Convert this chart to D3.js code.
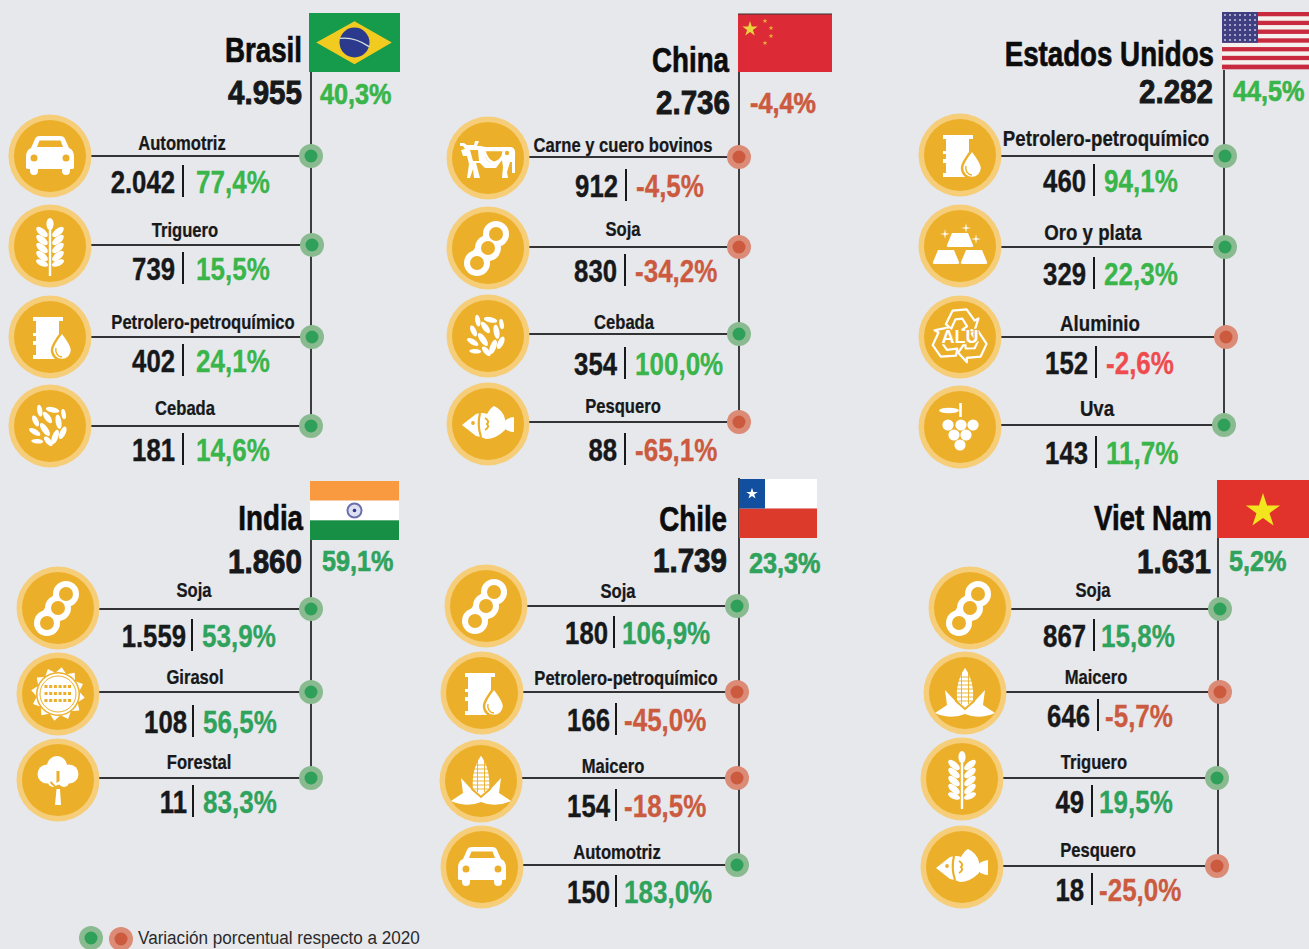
<!DOCTYPE html>
<html lang="es"><head>
<meta charset="utf-8">
<title>Exportaciones por destino</title>
<script src="https://cdnjs.cloudflare.com/ajax/libs/d3/7.8.5/d3.min.js"></script>
<style>
  html, body { margin: 0; background: #e6e8ec; }
  svg { display: block; }
  text { font-family: "Liberation Sans", sans-serif; font-weight: 700; fill: #17181a; }
</style>
</head>
<body>
<svg id="chart" width="1309" height="949"></svg>
<script>
// data
const countries = ["Brasil", "China", "Estados Unidos", "India", "Chile", "Viet Nam"];
const totals = [4955, 2736, 2282, 1860, 1739, 1631];
const totalChange = [40.3, -4.4, 44.5, 59.1, 23.3, 5.2];
const sectors = [
  ["Automotriz", "Triguero", "Petrolero-petroquímico", "Cebada"],
  ["Carne y cuero bovinos", "Soja", "Cebada", "Pesquero"],
  ["Petrolero-petroquímico", "Oro y plata", "Aluminio", "Uva"],
  ["Soja", "Girasol", "Forestal"],
  ["Soja", "Petrolero-petroquímico", "Maicero", "Automotriz"],
  ["Soja", "Maicero", "Triguero", "Pesquero"]
];
const sectorValues = [
  [2042, 739, 402, 181],
  [912, 830, 354, 88],
  [460, 329, 152, 143],
  [1559, 108, 11],
  [180, 166, 154, 150],
  [867, 646, 49, 18]
];
const sectorChange = [
  [77.4, 15.5, 24.1, 14.6],
  [-4.5, -34.2, 100.0, -65.1],
  [94.1, 22.3, -2.6, 11.7],
  [53.9, 56.5, 83.3],
  [106.9, -45.0, -18.5, 183.0],
  [15.8, -5.7, 19.5, -25.0]
];
const legendText = "Variación porcentual respecto a 2020";

// layout, one entry per panel
const stemX = [311, 739, 1224, 311, 739, 1218];
const stemTop = [72, 72, 70, 540, 478, 538];
const flagBox = [[309, 13, 91, 59], [738, 14, 94, 58], [1222, 12, 87, 57], [310, 481, 89, 59], [739, 479, 78, 59], [1217, 480, 92, 58]];
const titleY = [62, 72, 66, 530, 531, 530];
const titleRight = [302, 729, 1214, 303, 727, 1212];
const totalY = [104, 114, 103, 573, 572, 573];
const totalRight = [302, 730, 1213, 302, 727, 1211];
const headChangeX = [320, 750, 1233, 322, 749, 1229];
const headChangeY = [104, 113, 101, 571, 573, 571];
const lineY = [[156, 245, 337, 426], [157, 247, 334, 422], [156, 247, 337, 425], [609, 692, 778], [606, 692, 778, 865], [609, 692, 778, 866]];
const iconX = [[50, 50, 50, 50], [488, 488, 488, 488], [960, 960, 960, 960], [58, 58, 58], [486, 482, 481, 482], [970, 965, 962, 962]];
const iconY = [[156, 246, 337, 426], [158, 248, 336, 424], [155, 246, 337, 427], [608, 694, 780], [606, 693, 781, 867], [608, 693, 779, 867]];
const nodeX = [[311, 312, 312, 311], [739, 739, 739, 739], [1225, 1225, 1226, 1224], [311, 311, 311], [737, 737, 737, 737], [1220, 1220, 1217, 1217]];
const labelX = [[182, 185, 203, 185], [623, 623, 624, 623], [1106, 1093, 1100, 1097], [194, 195, 199], [618, 626, 613, 617], [1093, 1096, 1094, 1098]];
const labelY = [[150, 237, 329, 415], [152, 236, 329, 413], [146, 240, 331, 416], [597, 684, 769], [598, 685, 773, 859], [597, 684, 769, 857]];
const labelSize = [20, 20, 22.5, 20, 20, 20];
const sepX = [[183, 183, 183, 183], [626, 625, 625, 625], [1094, 1094, 1096, 1096], [192, 193, 193], [614, 616, 616, 616], [1094, 1098, 1092, 1092]];
const valueY = [[193, 280, 372, 461], [197, 282, 375, 461], [192, 285, 374, 464], [647, 733, 813], [644, 731, 817, 903], [647, 727, 813, 901]];
const valueGap = [8, 8, 8, 6, 6, 8];
const changeGap = [13, 10, 10, 10, 8, 7];

// Liberation Sans squeezed sideways stands in for the condensed face
const SQUEEZE = { title: 0.77, total: 0.87, head: 0.87, value: 0.83, change: 0.84, label: 0.83, legend: 0.86 };

const fmt = d3.formatLocale({ decimal: ",", thousands: ".", grouping: [3], currency: ["$", ""], minus: "-" });
const intFmt = fmt.format(",d");
const pctFmt = v => fmt.format(".1f")(v) + "%";

const GOLD = "#ebaf2a", RING = "#f6cd78", WHITE = "#ffffff";
const svg = d3.select("#chart");
svg.append("rect").attr("width", 1309).attr("height", 949).attr("fill", "#e6e8ec");

function label(g, str, x, y, size, squeeze, anchor) {
  return g.append("text").attr("transform", `translate(${x},${y}) scale(${squeeze},1)`)
    .attr("text-anchor", anchor || "start").attr("font-size", size).text(str);
}

// colour of a percentage: first three panels use the lighter green
const textColor = (panel, v) => d3.scaleThreshold().domain([0]).range([
  countries[panel] === "Estados Unidos" ? "#ef4b4f" : "#cc5a3f",
  panel < 3 ? "#39b54a" : "#2fa35c"
])(v);
const nodeFill = d3.scaleThreshold().domain([0]).range(["#cc5a3f", "#2fa05a"]);
const nodeRing = d3.scaleThreshold().domain([0]).range(["#db8b76", "#8abb90"]);

function drawNode(g, x, y, v) {
  g.append("circle").attr("cx", x).attr("cy", y).attr("r", 12).attr("fill", nodeRing(v));
  g.append("circle").attr("cx", x).attr("cy", y).attr("r", 6.5).attr("fill", nodeFill(v));
}

// icons, drawn around 0,0
function car(g) {
  g.append("path").attr("fill-rule", "evenodd").attr("fill", WHITE).attr("d",
    "M-24,1 Q-24,-6 -19,-8 L-15,-17 Q-14,-20 -10,-20 H10 Q14,-20 15,-17 L19,-8 Q24,-6 24,1 V12 Q24,13 20,13 V15 a4,4 0 0 1 -8,0 V13 H-12 V15 a4,4 0 0 1 -8,0 V13 Q-24,13 -24,12 Z" +
    "M-13,-9 L-10.5,-15.5 H10.5 L13,-9 Z" +
    "M-19.5,2 a3.5,3.5 0 1 0 7,0 a3.5,3.5 0 1 0 -7,0 Z M12.5,2 a3.5,3.5 0 1 0 7,0 a3.5,3.5 0 1 0 -7,0 Z");
}
function leaf(g, x, y, rot, rx, ry) {
  g.append("ellipse").attr("rx", rx).attr("ry", ry).attr("fill", WHITE)
    .attr("transform", `translate(${x},${y}) rotate(${rot})`);
}
function wheat(g) {
  g.append("rect").attr("x", -1.2).attr("y", -18).attr("width", 2.4).attr("height", 48).attr("fill", WHITE);
  leaf(g, 0, -22, 90, 6, 3.6);
  [-14, -6, 2, 10].forEach(y => {
    leaf(g, -8, y, 40, 7, 3.4);
    leaf(g, 8, y, -40, 7, 3.4);
  });
  leaf(g, -8, 17, 25, 6.5, 3);
  leaf(g, 8, 17, -25, 6.5, 3);
}
function oil(g) {
  g.append("path").attr("fill", WHITE).attr("d",
    "M-17,-20 H13 V-16 H9 V-4 H-8 V-1 H-17 V-4 H-14 V-16 H-17 Z M-14,-1 H-8 V8 H-17 V4 H-14 Z M-14,8 H7 V19 H13 V22 H-17 V18 H-14 Z M-8,-4 H9 V10 H-8 Z");
  g.append("path").attr("fill", WHITE).attr("stroke", GOLD).attr("stroke-width", 2.4)
    .attr("d", "M12,-5 Q22,8 22,13 a10,10 0 0 1 -20,0 Q2,8 12,-5 Z");
  g.append("path").attr("fill", "none").attr("stroke", GOLD).attr("stroke-width", 1.4)
    .attr("d", "M6,11 a6.5,7 0 0 0 6,9");
}
function barley(g) {
  const b = g.append("g").attr("transform", "scale(0.85)");
  [[-12, -18, 80, 7, 3], [3, -19, 12, 8, 3.2], [-3, -10, 55, 8, 3.4], [10, -5, 80, 8.5, 3.4], [-17, -6, 65, 7, 3.2],
   [-6, 4, 55, 9, 3.6], [15, 8, -65, 8, 3.4], [-18, 7, 30, 7.5, 3.2], [6, 13, -70, 9, 3.6], [-15, 18, 5, 7, 2.6], [-2, 18, 50, 7, 3.2], [16, -14, 80, 6, 2.6]]
    .forEach(d => leaf(b, d[0], d[1], d[2], d[3], d[4]));
}
function bean(g) {
  const pods = [[8, -14], [0, 0], [-11, 15]];
  g.append("line").attr("x1", 8).attr("y1", -14).attr("x2", -11).attr("y2", 15).attr("stroke", WHITE).attr("stroke-width", 20);
  pods.forEach(d => g.append("circle").attr("cx", d[0]).attr("cy", d[1]).attr("r", 13).attr("fill", WHITE));
  pods.forEach(d => g.append("circle").attr("cx", d[0]).attr("cy", d[1]).attr("r", 7).attr("fill", GOLD));
}
function fish(g) {
  g.append("path").attr("fill", WHITE).attr("d",
    "M-26,1 L-12,-10 Q-5,-12 -1,-10 Q3,-17 6,-18 Q15,-14 17,-5 L17,6 Q8,15 -2,15 L-7,13 L-12,12 Z");
  g.append("path").attr("fill", WHITE).attr("d", "M26,-7 V8 Q18,8 14,1 Q17,-6 26,-7 Z");
  g.append("circle").attr("cx", -15).attr("cy", -1).attr("r", 1.9).attr("fill", GOLD);
  g.append("path").attr("fill", "none").attr("stroke", GOLD).attr("stroke-width", 2.2).attr("d", "M-8,-11 Q-11,1 -7,13");
  g.append("path").attr("fill", "none").attr("stroke", GOLD).attr("stroke-width", 2).attr("d", "M-3,-6 Q2,-3 -1,0 Q2,3 -3,6");
}
function cow(g) {
  g.append("path").attr("fill", WHITE).attr("d",
    "M-28,-15 L-24,-15 L-21,-13 H-14 L-13,-17 H-9 L-11,-12 H-7 L-3,-11 H22 Q28,-11 27,-3 L27,15 H24 V4 L22,4 L19,14 L20,20 H14 L15,9 L14,2 L8,10 H-3 L-8,5 L-12,5 L-8,20 H-14 L-15,11 L-18,20 H-21 L-19,6 L-21,-2 H-25 L-27,-8 L-23,-9 L-25,-12 H-28 Z");
  g.append("path").attr("fill", GOLD).attr("d", "M-4,-8 L16,-8 Q15,3 6,5 Q-3,5 -4,-8 Z");
  g.append("path").attr("fill", GOLD).attr("d", "M-18,-8 L-10,-8 L-9,3 L-15,3 Z");
  g.append("circle").attr("cx", 19).attr("cy", -5).attr("r", 2.2).attr("fill", GOLD);
  g.append("path").attr("fill", "none").attr("stroke", WHITE).attr("stroke-width", 2.6).attr("d", "M-4,-8 Q-1,3 6,5 Q15,3 16,-8 Z");
}
function sparkle(g, x, y, s) {
  g.append("path").attr("fill", WHITE).attr("transform", `translate(${x},${y})`)
    .attr("d", `M0,${-s} L${s * 0.15},${-s * 0.15} L${s},0 L${s * 0.15},${s * 0.15} L0,${s} L${-s * 0.15},${s * 0.15} L${-s},0 L${-s * 0.15},${-s * 0.15} Z`);
}
function gold(g) {
  const bar = "M-8,-7 H8 L13,5 Q14,7 11,7 H-11 Q-14,7 -13,5 Z";
  [[0, -6], [-14, 11], [14, 11]].forEach(d =>
    g.append("path").attr("fill", WHITE).attr("d", bar).attr("transform", `translate(${d[0]},${d[1]})`));
  sparkle(g, -15, -12, 5);
  sparkle(g, 6, -18, 5);
  sparkle(g, 16, -7, 5);
}
function recycle(g) {
  [0, 120, 240].forEach(a => {
    const r = g.append("g").attr("transform", `rotate(${a - 5})`);
    r.append("path").attr("fill", "none").attr("stroke", WHITE).attr("stroke-width", 2.2).attr("stroke-linejoin", "round")
      .attr("d", "M-13,-14 L-5,-27 H9 L16,-15 L20,-17 L15,-5 L3,-7 L8,-10 L4,-18 H-3 L-8,-9 Z");
  });
  g.append("text").attr("text-anchor", "middle").attr("y", 6).attr("font-size", 18).style("fill", WHITE)
    .attr("stroke", GOLD).attr("stroke-width", 2.4).attr("paint-order", "stroke").text("ALU");
}
function grapes(g) {
  g.append("rect").attr("x", -0.8).attr("y", -24).attr("width", 2.6).attr("height", 14).attr("fill", WHITE);
  g.append("ellipse").attr("cx", -11).attr("cy", -16.5).attr("rx", 10).attr("ry", 2.8).attr("fill", WHITE);
  [[-12, -2], [1, -2], [13, -2], [-6, 8], [6, 8], [0, 18]].forEach(d =>
    g.append("circle").attr("cx", d[0]).attr("cy", d[1]).attr("r", 5.6).attr("fill", WHITE));
}
function sunflower(g) {
  d3.range(12).forEach(i => {
    g.append("path").attr("fill", WHITE).attr("transform", `rotate(${i * 30 + 8})`)
      .attr("d", "M-7,-19 L0,-27 L7,-19 Z");
  });
  g.append("circle").attr("r", 22).attr("fill", GOLD);
  g.append("circle").attr("r", 20.5).attr("fill", WHITE);
  g.append("circle").attr("r", 18).attr("fill", "none").attr("stroke", GOLD).attr("stroke-width", 1);
  d3.range(3).forEach(r => d3.range(6).forEach(c =>
    g.append("rect").attr("x", -13.5 + c * 4.7).attr("y", -9 + r * 7).attr("width", 3).attr("height", 3).attr("fill", GOLD)));
}
function tree(g) {
  [[-11, -6, 9.5], [11, -6, 9.5], [-1, -14, 10], [0, -5, 10]].forEach(d =>
    g.append("circle").attr("cx", d[0]).attr("cy", d[1]).attr("r", d[2]).attr("fill", WHITE));
  g.append("circle").attr("cx", -5).attr("cy", 2).attr("r", 5).attr("fill", WHITE);
  g.append("circle").attr("cx", 6).attr("cy", 2).attr("r", 5).attr("fill", WHITE);
  g.append("path").attr("fill", GOLD).attr("d", "M-1.5,-9 H1.5 L1.5,1 L-1.5,3 Z M-7,1 L-0.5,8 L-0.5,10 L-8,3 Z");
  g.append("path").attr("fill", WHITE).attr("d", "M-1.5,9 H2 L3,25 H-3 Z");
}
function corn(g) {
  g.append("path").attr("fill", WHITE).attr("d", "M-20,-3 L-8,10 L0,16 L8,10 L20,-3 L18,12 L30,20 Q14,27 0,21 Q-14,27 -30,20 L-18,12 Z");
  g.append("path").attr("fill", WHITE).attr("stroke", GOLD).attr("stroke-width", 2).attr("d", "M0,-27 Q11,-12 9,8 L0,16 L-9,8 Q-11,-12 0,-27 Z");
  d3.range(7).forEach(i => g.append("line").attr("x1", -9).attr("x2", 9).attr("y1", -16 + i * 4).attr("y2", -16 + i * 4).attr("stroke", GOLD).attr("stroke-width", 0.9));
  [-3.5, 3.5].forEach(x => g.append("line").attr("x1", x).attr("x2", x).attr("y1", -22).attr("y2", 11).attr("stroke", GOLD).attr("stroke-width", 0.9));
}
const iconFor = {
  "Automotriz": car, "Triguero": wheat, "Petrolero-petroquímico": oil, "Cebada": barley, "Soja": bean, "Pesquero": fish,
  "Carne y cuero bovinos": cow, "Oro y plata": gold, "Aluminio": recycle, "Uva": grapes, "Girasol": sunflower,
  "Forestal": tree, "Maicero": corn
};

// flags, drawn in a box of width w and height h
const star = R => d3.symbol(d3.symbolStar, R * R / 0.8908)();
const flags = {
  "Brasil": (f, w, h) => {
    f.append("rect").attr("width", w).attr("height", h).attr("fill", "#169a4b");
    f.append("path").attr("fill", "#f2cb20").attr("d", `M${w * 0.08},${h / 2} L${w / 2},${h * 0.14} L${w * 0.91},${h / 2} L${w / 2},${h * 0.87} Z`);
    f.append("circle").attr("cx", w * 0.5).attr("cy", h * 0.5).attr("r", 15).attr("fill", "#2b3a8c");
    f.append("path").attr("fill", "none").attr("stroke", "#d8e0e0").attr("stroke-width", 1.4).attr("d", `M${w * 0.34},${h * 0.43} Q${w * 0.5},${h * 0.4} ${w * 0.66},${h * 0.57}`);
  },
  "China": (f, w, h) => {
    f.append("rect").attr("width", w).attr("height", h).attr("fill", "#dc2b36");
    f.append("line").attr("x2", w).attr("stroke", "#333").attr("stroke-width", 1);
    f.append("path").attr("d", star(8)).attr("fill", "#e8d43c").attr("transform", "translate(12,15)");
    [[27, 7], [33, 14], [33, 22], [27, 29]].forEach(d => f.append("path").attr("d", star(2.6)).attr("fill", "#e8b23c").attr("transform", `translate(${d[0]},${d[1]})`));
  },
  "Estados Unidos": (f, w, h) => {
    d3.range(13).forEach(i => f.append("rect").attr("y", i * h / 13).attr("width", w).attr("height", h / 13 + 0.3).attr("fill", i % 2 ? "#f4f1ef" : "#c82a40"));
    f.append("rect").attr("width", 36).attr("height", h * 0.54).attr("fill", "#3f3f82");
    d3.range(6).forEach(r => d3.range(7).forEach(c =>
      f.append("circle").attr("cx", 3 + c * 5).attr("cy", 3 + r * 5).attr("r", 1).attr("fill", "#c9c9dc")));
  },
  "India": (f, w, h) => {
    f.append("rect").attr("width", w).attr("height", h / 3).attr("fill", "#f99a40");
    f.append("rect").attr("y", h / 3).attr("width", w).attr("height", h / 3).attr("fill", "#ffffff");
    f.append("rect").attr("y", h * 2 / 3).attr("width", w).attr("height", h / 3).attr("fill", "#178f45");
    f.append("circle").attr("cx", w * 0.5).attr("cy", h / 2).attr("r", 7).attr("fill", "#dfe0f0").attr("stroke", "#6c6fae").attr("stroke-width", 2);
    f.append("circle").attr("cx", w * 0.5).attr("cy", h / 2).attr("r", 1.8).attr("fill", "#2d3590");
  },
  "Chile": (f, w, h) => {
    f.append("rect").attr("width", w).attr("height", h / 2).attr("fill", "#ffffff");
    f.append("rect").attr("y", h / 2).attr("width", w).attr("height", h / 2).attr("fill", "#dc3a2a");
    f.append("rect").attr("width", 26).attr("height", h / 2).attr("fill", "#124f9f");
    f.append("path").attr("d", star(6)).attr("fill", "#ffffff").attr("transform", `translate(13,${h / 4})`);
  },
  "Viet Nam": (f, w, h) => {
    f.append("rect").attr("width", w).attr("height", h).attr("fill", "#e2322c");
    f.append("path").attr("d", star(18)).attr("fill", "#f2e51e").attr("transform", `translate(${w / 2},${h / 2 + 2})`);
  }
};

countries.forEach((country, i) => {
  const panel = svg.append("g").attr("class", "panel");
  const y = d3.scaleOrdinal().domain(sectors[i]).range(lineY[i]);
  const last = sectors[i][sectors[i].length - 1];

  // stem
  panel.append("line").attr("x1", stemX[i]).attr("x2", stemX[i]).attr("y1", stemTop[i]).attr("y2", y(last))
    .attr("stroke", "#3d3d40").attr("stroke-width", 2);

  // flag
  const b = flagBox[i];
  flags[country](panel.append("g").attr("transform", `translate(${b[0]},${b[1]})`), b[2], b[3]);

  // header
  label(panel, country, titleRight[i], titleY[i], 36, SQUEEZE.title, "end").style("fill", "#0c0c0d")
    .attr("stroke", "#0c0c0d").attr("stroke-width", 0.7);
  label(panel, intFmt(totals[i]), totalRight[i], totalY[i], 34, SQUEEZE.total, "end")
    .attr("stroke", "#17181a").attr("stroke-width", 0.9);
  label(panel, pctFmt(totalChange[i]), headChangeX[i], headChangeY[i], 29, SQUEEZE.head)
    .style("fill", textColor(i, totalChange[i])).attr("stroke", textColor(i, totalChange[i])).attr("stroke-width", 0.6);

  // sector rows
  sectors[i].forEach((s, j) => {
    const row = panel.append("g");
    const v = sectorChange[i][j];
    row.append("line").attr("x1", iconX[i][j] + 41).attr("x2", nodeX[i][j]).attr("y1", y(s)).attr("y2", y(s))
      .attr("stroke", "#333336").attr("stroke-width", 1.8);
    drawNode(row, nodeX[i][j], y(s), v);

    const ic = row.append("g").attr("transform", `translate(${iconX[i][j]},${iconY[i][j]})`);
    ic.append("circle").attr("r", 41.5).attr("fill", RING);
    ic.append("circle").attr("r", 36).attr("fill", GOLD);
    iconFor[s](ic);

    label(row, s, labelX[i][j], labelY[i][j], labelSize[i], SQUEEZE.label, "middle")
      .attr("stroke", "#17181a").attr("stroke-width", 0.25);
    label(row, intFmt(sectorValues[i][j]), sepX[i][j] - valueGap[i], valueY[i][j], 31, SQUEEZE.value, "end")
      .attr("stroke", "#17181a").attr("stroke-width", 0.4);
    row.append("line").attr("x1", sepX[i][j]).attr("x2", sepX[i][j]).attr("y1", valueY[i][j] - 28).attr("y2", valueY[i][j] + 4)
      .attr("stroke", "#17181a").attr("stroke-width", 2);
    label(row, pctFmt(v), sepX[i][j] + changeGap[i], valueY[i][j], 31, SQUEEZE.change)
      .style("fill", textColor(i, v)).attr("stroke", textColor(i, v)).attr("stroke-width", 0.3);
  });
});

// legend
const legend = svg.append("g");
drawNode(legend, 91, 938, 1);
drawNode(legend, 121, 939, -1);
label(legend, legendText, 138, 944, 19, 0.9).style("font-weight", 400).style("fill", "#2a2a2c");
</script>
</body>
</html>
